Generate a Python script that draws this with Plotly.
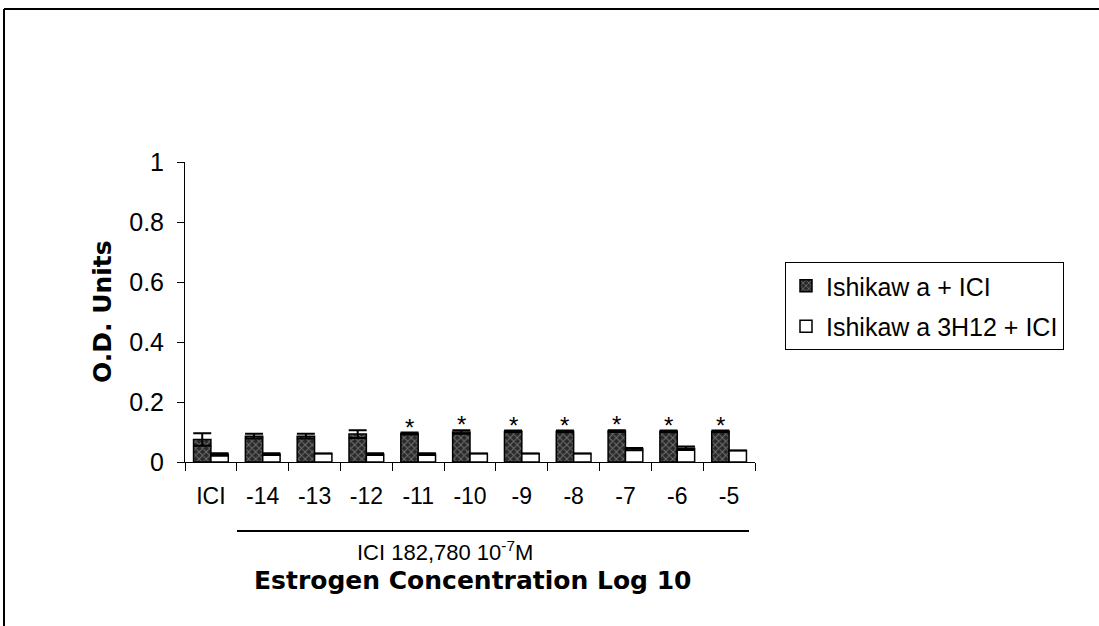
import plotly.graph_objects as go

categories = ["ICI", "-14", "-13", "-12", "-11", "-10", "-9", "-8", "-7", "-6", "-5"]
ishikawa_ici = [0.075, 0.086, 0.086, 0.093, 0.095, 0.1, 0.102, 0.102, 0.103, 0.102, 0.102]
ishikawa_ici_err = [0.021, 0.008, 0.008, 0.013, 0.003, 0.006, 0.003, 0.003, 0.003, 0.003, 0.003]
h12_ici = [0.025, 0.026, 0.028, 0.026, 0.026, 0.028, 0.028, 0.028, 0.043, 0.046, 0.038]
h12_ici_err = [0.004, 0.003, 0.0, 0.003, 0.003, 0.0, 0.0, 0.0, 0.004, 0.006, 0.0]
significant = [False, False, False, False, True, True, True, True, True, True, True]
y_ticks = [0, 0.2, 0.4, 0.6, 0.8, 1]
legend_names = ["Ishikaw a + ICI", "Ishikaw a 3H12 + ICI"]

FONT = "Liberation Sans, Arial, sans-serif"
BOLD_FONT = "DejaVu Sans, Liberation Sans, sans-serif"
W, H = 1099, 626
L, R, T, B = 185, 344, 162, 164
plot_w = W - L - R
plot_h = H - T - B


def px_x(x):
    return (x - L) / plot_w


def px_y(y):
    return (H - B - y) / plot_h


fig = go.Figure()
fig.add_trace(go.Bar(
    x=categories, y=ishikawa_ici, name=legend_names[0], legendgroup="a",
    marker=dict(color="#2a2a2a", line=dict(color="black", width=1.5),
                pattern=dict(shape="x", fgcolor="#b8b8b8", bgcolor="#2a2a2a",
                             size=5, solidity=0.35, fillmode="overlay")),
    error_y=dict(type="data", array=ishikawa_ici_err, visible=True,
                 color="black", thickness=2, width=9),
))
fig.add_trace(go.Bar(
    x=categories, y=h12_ici, name=legend_names[1], legendgroup="b",
    marker=dict(color="white", line=dict(color="black", width=1.5)),
    error_y=dict(type="data", array=h12_ici_err, visible=True,
                 color="black", thickness=2, width=9),
))

fig.update_layout(
    width=W, height=H,
    margin=dict(l=L, r=R, t=T, b=B),
    paper_bgcolor="white", plot_bgcolor="white",
    barmode="group", bargap=0.33, bargroupgap=0,
    font=dict(family=FONT, size=22, color="black"),
    showlegend=True,
    legend=dict(x=px_x(785), y=px_y(262), xanchor="left", yanchor="top",
                bordercolor="black", borderwidth=1, bgcolor="white",
                font=dict(size=25), traceorder="grouped", tracegroupgap=5,
                itemwidth=30),
    xaxis=dict(type="category", range=[-0.5, len(categories) - 0.5],
               showline=True, linecolor="black", linewidth=1,
               ticks="outside", ticklen=8, tickcolor="black", tickson="boundaries",
               ticklabelstandoff=13, tickangle=0, showgrid=False, zeroline=False,
               tickfont=dict(size=23)),
    yaxis=dict(range=[0, 1], tickvals=y_ticks, ticktext=[f"{v:g}" for v in y_ticks],
               showline=True, linecolor="black", linewidth=1,
               ticks="outside", ticklen=7, tickcolor="black", ticklabelstandoff=8,
               showgrid=False, zeroline=False, tickfont=dict(size=25)),
)

# significance asterisks above the dark bars
bar_offset_px = -(1 - 0.33) / 4 * (plot_w / len(categories))
for i, (v, e, s) in enumerate(zip(ishikawa_ici, ishikawa_ici_err, significant)):
    if s:
        fig.add_annotation(x=i, y=v + e, xref="x", yref="y", text="*",
                           showarrow=False, xshift=bar_offset_px, yanchor="bottom",
                           yshift=-10, font=dict(size=24, family=FONT))

# axis titles and subtitle
fig.add_annotation(x=px_x(102), y=px_y(312), xref="paper", yref="paper",
                   xanchor="center", yanchor="middle",
                   text="<b>O.D. Units</b>", textangle=-90, showarrow=False,
                   font=dict(size=25, family=BOLD_FONT))
fig.add_annotation(x=px_x(445), y=px_y(551), xref="paper", yref="paper",
                   xanchor="center", yanchor="middle",
                   text="ICI 182,780 10<sup>-7</sup>M", showarrow=False,
                   font=dict(size=22, family=FONT))
fig.add_annotation(x=px_x(473), y=px_y(580), xref="paper", yref="paper",
                   xanchor="center", yanchor="middle",
                   text="<b>Estrogen Concentration Log 10</b>", showarrow=False,
                   font=dict(size=25, family=BOLD_FONT))

# line under the estrogen concentration labels
fig.add_shape(type="line", xref="paper", yref="paper",
              x0=px_x(237), x1=px_x(749), y0=px_y(531), y1=px_y(531),
              line=dict(color="black", width=2))

# outer frame (partially off-canvas)
fig.add_shape(type="line", xref="paper", yref="paper",
              x0=px_x(4), x1=px_x(1110), y0=px_y(9), y1=px_y(9),
              line=dict(color="black", width=2))
fig.add_shape(type="line", xref="paper", yref="paper",
              x0=px_x(4), x1=px_x(4), y0=px_y(9), y1=px_y(640),
              line=dict(color="black", width=2))

fig.write_html("out.html", config={"displayModeBar": False},
               post_script="document.body.style.margin='0';")
